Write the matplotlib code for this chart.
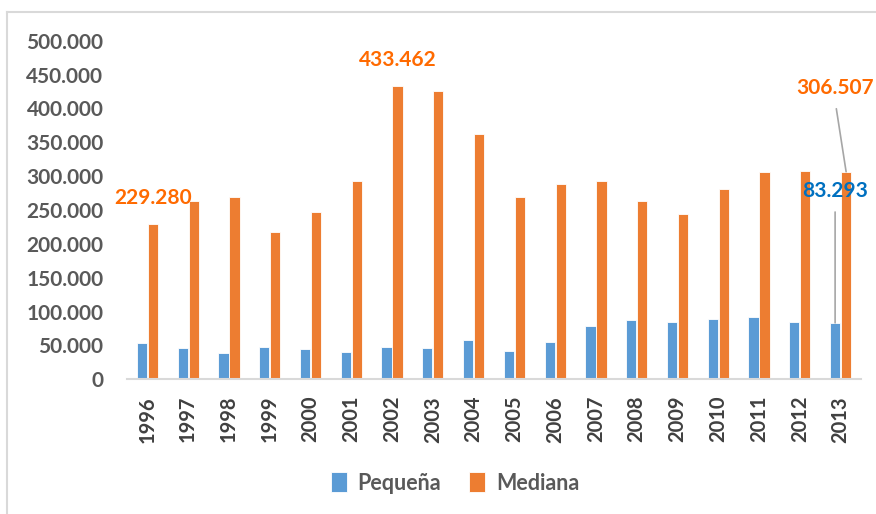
import matplotlib
matplotlib.use("Agg")
import matplotlib.pyplot as plt
from matplotlib.lines import Line2D
from matplotlib.ticker import FuncFormatter
import numpy as np

# ---------------------------------------------------------------------
# Data
# ---------------------------------------------------------------------
YEARS = [str(y) for y in range(1996, 2014)]
PEQUENA = [53800, 46400, 39400, 47400, 44400, 40000, 48300, 46400, 58200,
           41900, 55200, 79000, 87400, 85300, 89300, 91800, 84900, 83293]
MEDIANA = [229280, 262600, 268500, 218000, 246800, 292700, 433462, 425500,
           362800, 268500, 288200, 292700, 264000, 244800, 280400, 305500,
           307000, 306507]

BLUE = "#5B9BD5"
ORANGE = "#ED7D31"
LABEL_ORANGE = "#FF6A00"
LABEL_BLUE = "#0070C0"
GREY = "#595959"

plt.rcParams["font.family"] = ["Lato", "DejaVu Sans"]
plt.rcParams["font.weight"] = "bold"


def miles(v, _pos):
    return f"{int(v):,}".replace(",", ".")


fig = plt.figure(figsize=(8.76, 5.14), dpi=100)
ax = fig.add_axes([127 / 876, 134.7 / 514, 734 / 876, 338.6 / 514])

x = np.arange(len(YEARS))
w = 0.25
off = 0.135
ax.bar(x - off, PEQUENA, width=w, color=BLUE, edgecolor="white",
       linewidth=0.6, label="Pequeña", zorder=2)
ax.bar(x + off, MEDIANA, width=w, color=ORANGE, edgecolor="white",
       linewidth=0.6, label="Mediana", zorder=2)

ax.set_xlim(-0.5, len(YEARS) - 0.5)
ax.set_ylim(0, 500000)
ax.set_yticks(np.arange(0, 500001, 50000))
ax.yaxis.set_major_formatter(FuncFormatter(miles))
ax.set_xticks(x)
ax.set_xticklabels(YEARS, rotation=90)

ax.tick_params(axis="y", length=0, pad=17, labelsize=15, labelcolor=GREY)
ax.tick_params(axis="x", length=0, pad=12, labelsize=14.5, labelcolor="#404040")
for lbl in ax.get_xticklabels() + ax.get_yticklabels():
    lbl.set_fontweight("bold")

for s in ["top", "right", "left"]:
    ax.spines[s].set_visible(False)
ax.spines["bottom"].set_color("#D9D9D9")
ax.spines["bottom"].set_linewidth(1.5)

# data labels
lab_kw = dict(textcoords="offset pixels", ha="center", va="center",
              fontsize=15, fontweight="bold", annotation_clip=False, zorder=5)
ax.annotate(miles(MEDIANA[0], None), (x[0] + off, MEDIANA[0]), xytext=(0, 26),
            color=LABEL_ORANGE, **lab_kw)
ax.annotate(miles(MEDIANA[6], None), (x[6] + off, MEDIANA[6]), xytext=(0, 26),
            color=LABEL_ORANGE, **lab_kw)
ax.annotate(miles(MEDIANA[-1], None), (x[-1] + off, MEDIANA[-1]),
            xytext=(-11.5, 84), color=LABEL_ORANGE,
            arrowprops=dict(arrowstyle="-", color="#A6A6A6", lw=1.2,
                            relpos=(0.5, 0), shrinkA=6, shrinkB=0),
            **lab_kw)
ax.annotate(miles(PEQUENA[-1], None), (x[-1] - off, PEQUENA[-1]),
            xytext=(0, 132), color=LABEL_BLUE,
            arrowprops=dict(arrowstyle="-", color="#A6A6A6", lw=1.2,
                            relpos=(0.5, 0), shrinkA=6, shrinkB=0),
            **lab_kw)

leg = fig.legend(loc="center", bbox_to_anchor=(455 / 876, 1 - 483 / 514),
                 ncol=2, frameon=False, fontsize=15.5, handlelength=0.75,
                 handleheight=1.05, handletextpad=0.5, columnspacing=1.3)
for t in leg.get_texts():
    t.set_color(GREY)
    t.set_fontweight("bold")

# chart area border (left and top edges visible in the crop)
fig.add_artist(Line2D([7 / 876, 7 / 876], [0, 1 - 12 / 514],
                      transform=fig.transFigure, color="#D9D9D9", lw=1.5))
fig.add_artist(Line2D([7 / 876, 1], [1 - 12 / 514, 1 - 12 / 514],
                      transform=fig.transFigure, color="#D9D9D9", lw=1.5))

fig.savefig("out.png", dpi=100)
